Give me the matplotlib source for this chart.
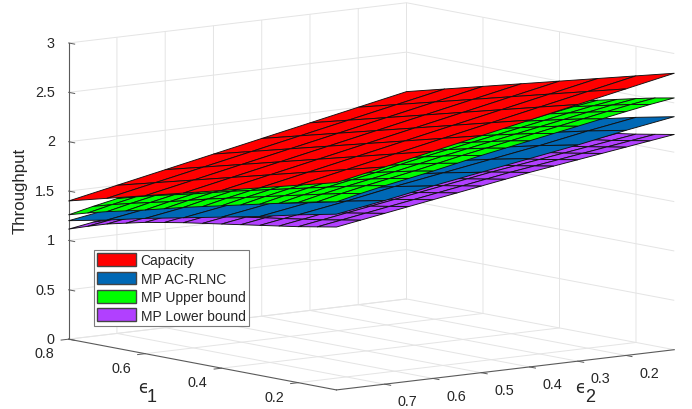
"""Throughput surfaces over the two erasure probabilities."""

import matplotlib

matplotlib.use("Agg")
import matplotlib.pyplot as plt
import numpy as np
from matplotlib.patches import Patch

plt.rcParams["font.family"] = ["Liberation Sans", "DejaVu Sans"]

INK = "#262626"
GRID = "#e4e4e4"
WIDTH, HEIGHT = 692, 410

# capacity and AC-RLNC sit on a coarse grid, the two bounds on a finer one
eps_coarse = [0.1, 0.2, 0.3, 0.4, 0.5, 0.6, 0.7, 0.8]
eps_fine = [0.1, 0.15, 0.2, 0.25, 0.3, 0.35, 0.4, 0.45, 0.5, 0.55, 0.6, 0.65, 0.7, 0.75, 0.8]

# rows follow eps1, columns follow eps2
capacity = [
    [2.8, 2.7, 2.6, 2.5, 2.4, 2.3, 2.2, 2.1],
    [2.7, 2.6, 2.5, 2.4, 2.3, 2.2, 2.1, 2.0],
    [2.6, 2.5, 2.4, 2.3, 2.2, 2.1, 2.0, 1.9],
    [2.5, 2.4, 2.3, 2.2, 2.1, 2.0, 1.9, 1.8],
    [2.4, 2.3, 2.2, 2.1, 2.0, 1.9, 1.8, 1.7],
    [2.3, 2.2, 2.1, 2.0, 1.9, 1.8, 1.7, 1.6],
    [2.2, 2.1, 2.0, 1.9, 1.8, 1.7, 1.6, 1.5],
    [2.1, 2.0, 1.9, 1.8, 1.7, 1.6, 1.5, 1.4],
]
ac_rlnc = [
    [2.36, 2.28, 2.19, 2.11, 2.03, 1.95, 1.86, 1.78],
    [2.28, 2.20, 2.11, 2.03, 1.95, 1.87, 1.78, 1.70],
    [2.19, 2.11, 2.02, 1.94, 1.86, 1.78, 1.69, 1.61],
    [2.11, 2.03, 1.94, 1.86, 1.78, 1.70, 1.61, 1.53],
    [2.03, 1.95, 1.86, 1.78, 1.70, 1.62, 1.53, 1.45],
    [1.95, 1.87, 1.78, 1.70, 1.62, 1.54, 1.45, 1.37],
    [1.86, 1.78, 1.69, 1.61, 1.53, 1.45, 1.36, 1.28],
    [1.78, 1.70, 1.61, 1.53, 1.45, 1.37, 1.28, 1.20],
]
upper_bound = [
    [2.55, 2.513, 2.47, 2.425, 2.38, 2.335, 2.29, 2.245, 2.20, 2.15, 2.10, 2.055, 2.01, 1.96, 1.905],
    [2.513, 2.476, 2.433, 2.388, 2.343, 2.298, 2.253, 2.208, 2.163, 2.113, 2.063, 2.018, 1.973, 1.923, 1.868],
    [2.47, 2.433, 2.39, 2.345, 2.30, 2.255, 2.21, 2.165, 2.12, 2.07, 2.02, 1.975, 1.93, 1.88, 1.825],
    [2.425, 2.388, 2.345, 2.30, 2.255, 2.21, 2.165, 2.12, 2.075, 2.025, 1.975, 1.93, 1.885, 1.835, 1.78],
    [2.38, 2.343, 2.30, 2.255, 2.21, 2.165, 2.12, 2.075, 2.03, 1.98, 1.93, 1.885, 1.84, 1.79, 1.735],
    [2.335, 2.298, 2.255, 2.21, 2.165, 2.12, 2.075, 2.03, 1.985, 1.935, 1.885, 1.84, 1.795, 1.745, 1.69],
    [2.29, 2.253, 2.21, 2.165, 2.12, 2.075, 2.03, 1.985, 1.94, 1.89, 1.84, 1.795, 1.75, 1.70, 1.645],
    [2.245, 2.208, 2.165, 2.12, 2.075, 2.03, 1.985, 1.94, 1.895, 1.845, 1.795, 1.75, 1.705, 1.655, 1.60],
    [2.20, 2.163, 2.12, 2.075, 2.03, 1.985, 1.94, 1.895, 1.85, 1.80, 1.75, 1.705, 1.66, 1.61, 1.555],
    [2.15, 2.113, 2.07, 2.025, 1.98, 1.935, 1.89, 1.845, 1.80, 1.75, 1.70, 1.655, 1.61, 1.56, 1.505],
    [2.10, 2.063, 2.02, 1.975, 1.93, 1.885, 1.84, 1.795, 1.75, 1.70, 1.65, 1.605, 1.56, 1.51, 1.455],
    [2.055, 2.018, 1.975, 1.93, 1.885, 1.84, 1.795, 1.75, 1.705, 1.655, 1.605, 1.56, 1.515, 1.465, 1.41],
    [2.01, 1.973, 1.93, 1.885, 1.84, 1.795, 1.75, 1.705, 1.66, 1.61, 1.56, 1.515, 1.47, 1.42, 1.365],
    [1.96, 1.923, 1.88, 1.835, 1.79, 1.745, 1.70, 1.655, 1.61, 1.56, 1.51, 1.465, 1.42, 1.37, 1.315],
    [1.905, 1.868, 1.825, 1.78, 1.735, 1.69, 1.645, 1.60, 1.555, 1.505, 1.455, 1.41, 1.365, 1.315, 1.26],
]
lower_bound = [
    [2.18, 2.145, 2.11, 2.075, 2.04, 2.005, 1.97, 1.93, 1.89, 1.85, 1.81, 1.77, 1.73, 1.69, 1.65],
    [2.145, 2.11, 2.075, 2.04, 2.005, 1.97, 1.935, 1.895, 1.855, 1.815, 1.775, 1.735, 1.695, 1.655, 1.615],
    [2.11, 2.075, 2.04, 2.005, 1.97, 1.935, 1.90, 1.86, 1.82, 1.78, 1.74, 1.70, 1.66, 1.62, 1.58],
    [2.08, 2.045, 2.01, 1.975, 1.94, 1.905, 1.87, 1.83, 1.79, 1.75, 1.71, 1.67, 1.63, 1.59, 1.55],
    [2.05, 2.015, 1.98, 1.945, 1.91, 1.875, 1.84, 1.80, 1.76, 1.72, 1.68, 1.64, 1.60, 1.56, 1.52],
    [2.02, 1.985, 1.95, 1.915, 1.88, 1.845, 1.81, 1.77, 1.73, 1.69, 1.65, 1.61, 1.57, 1.53, 1.49],
    [1.99, 1.955, 1.92, 1.885, 1.85, 1.815, 1.78, 1.74, 1.70, 1.66, 1.62, 1.58, 1.54, 1.50, 1.46],
    [1.96, 1.925, 1.89, 1.855, 1.82, 1.785, 1.75, 1.71, 1.67, 1.63, 1.59, 1.55, 1.51, 1.47, 1.43],
    [1.93, 1.895, 1.86, 1.825, 1.79, 1.755, 1.72, 1.68, 1.64, 1.60, 1.56, 1.52, 1.48, 1.44, 1.40],
    [1.895, 1.86, 1.825, 1.79, 1.755, 1.72, 1.685, 1.645, 1.605, 1.565, 1.525, 1.485, 1.445, 1.405, 1.365],
    [1.86, 1.825, 1.79, 1.755, 1.72, 1.685, 1.65, 1.61, 1.57, 1.53, 1.49, 1.45, 1.41, 1.37, 1.33],
    [1.815, 1.78, 1.745, 1.71, 1.675, 1.64, 1.605, 1.565, 1.525, 1.485, 1.445, 1.405, 1.365, 1.325, 1.285],
    [1.77, 1.735, 1.70, 1.665, 1.63, 1.595, 1.56, 1.52, 1.48, 1.44, 1.40, 1.36, 1.32, 1.28, 1.24],
    [1.71, 1.675, 1.64, 1.605, 1.57, 1.535, 1.50, 1.46, 1.42, 1.38, 1.34, 1.30, 1.26, 1.22, 1.18],
    [1.645, 1.61, 1.575, 1.54, 1.505, 1.47, 1.435, 1.395, 1.355, 1.315, 1.275, 1.235, 1.195, 1.155, 1.115],
]

eps1_ticks = [0.2, 0.4, 0.6, 0.8]
eps2_ticks = [0.2, 0.3, 0.4, 0.5, 0.6, 0.7]
z_ticks = [0, 0.5, 1, 1.5, 2, 2.5, 3]
z_tick_labels = ["0", "0.5", "1", "1.5", "2", "2.5", "3"]

# painted bottom to top
surfaces = [
    (eps_fine, lower_bound, "#b140ff"),
    (eps_coarse, ac_rlnc, "#0068b5"),
    (eps_fine, upper_bound, "#00ff00"),
    (eps_coarse, capacity, "#ff0000"),
]


def pixel_text(fig, x, y, text, **kwargs):
    # x, y in reference pixels, y measured from the top
    fig.text(x / WIDTH, 1 - y / HEIGHT, text, ha="center", va="center", color=INK, **kwargs)


fig = plt.figure(figsize=(WIDTH / 100, HEIGHT / 100), dpi=100)
side = 700
ax = fig.add_axes(
    [12 / WIDTH, -146.8 / HEIGHT, side / WIDTH, side / HEIGHT],
    projection="3d",
    proj_type="ortho",
    computed_zorder=False,
)
ax.view_init(elev=8.64, azim=141.6)
ax.set_box_aspect((1, 1, 0.695), zoom=0.942)
ax.patch.set_alpha(0)

for i, (grid, values, color) in enumerate(surfaces):
    E2, E1 = np.meshgrid(grid, grid)
    ax.plot_surface(
        E1,
        E2,
        np.array(values),
        color=color,
        edgecolor="#111111",
        linewidth=0.65,
        shade=False,
        zorder=i + 2,
        rstride=1,
        cstride=1,
    )

ax.set_xlim(0.1, 0.8, view_margin=0)
ax.set_ylim(0.1, 0.8, view_margin=0)
ax.set_zlim(0, 3, view_margin=0)
ax.set_xticks(eps1_ticks)
ax.set_yticks(eps2_ticks)
ax.set_zticks(z_ticks)
ax.set_zticklabels(z_tick_labels)
ax.tick_params(labelsize=10.4, labelcolor=INK, colors="#5a5a5a")
ax.tick_params(axis="x", pad=3)
ax.tick_params(axis="y", pad=5)
ax.tick_params(axis="z", pad=-2)

# back corner edge, the panes themselves carry no outline
ax.plot([0.8, 0.8], [0.1, 0.1], [0, 3], color=GRID, linewidth=0.7, zorder=1)

for axis in (ax.xaxis, ax.yaxis, ax.zaxis):
    axis.set_pane_color((1, 1, 1, 0))
    axis.pane.set_edgecolor("none")
    axis._axinfo["grid"].update(color=GRID, linewidth=0.7)
    axis._axinfo["tick"].update(inward_factor=0.28, outward_factor=0.0, linewidth={True: 0.7, False: 0.7})
    axis.line.set_linewidth(0.8)
    axis.line.set_color("#5a5a5a")

# z axis belongs on the left corner, mplot3d would put it on the right one
z_edge_points = ax.zaxis._get_axis_line_edge_points
ax.zaxis._get_axis_line_edge_points = lambda a, b, position=None: z_edge_points(b, a, position)

plt.setp(ax.get_xticklabels(), ha="right", va="center")
plt.setp(ax.get_yticklabels(), ha="left", va="center")
plt.setp(ax.get_zticklabels(), ha="right", va="center")

pixel_text(fig, 20.5, 191, "Throughput", fontsize=12.1, rotation=90)
pixel_text(fig, 143, 388, "\u03f5", fontsize=12, family="DejaVu Sans")
pixel_text(fig, 152, 398, "1", fontsize=13)
pixel_text(fig, 580, 388, "\u03f5", fontsize=12, family="DejaVu Sans")
pixel_text(fig, 590, 398, "2", fontsize=13)

handles = [
    Patch(facecolor="#ff0000", edgecolor="#444444", label="Capacity"),
    Patch(facecolor="#0068b5", edgecolor="#444444", label="MP AC-RLNC"),
    Patch(facecolor="#00ff00", edgecolor="#444444", label="MP Upper bound"),
    Patch(facecolor="#b140ff", edgecolor="#444444", label="MP Lower bound"),
]
legend = fig.legend(
    handles=handles,
    loc="lower left",
    bbox_to_anchor=(94 / WIDTH, (HEIGHT - 327) / HEIGHT),
    borderaxespad=0,
    fontsize=10,
    fancybox=False,
    framealpha=1,
    edgecolor="#7a7a7a",
    labelcolor=INK,
    handlelength=2.8,
    handleheight=1.04,
    handletextpad=0.3,
    labelspacing=0.31,
    borderpad=0.25,
)
legend.get_frame().set_linewidth(0.8)

fig.savefig("out.png", dpi=100)
